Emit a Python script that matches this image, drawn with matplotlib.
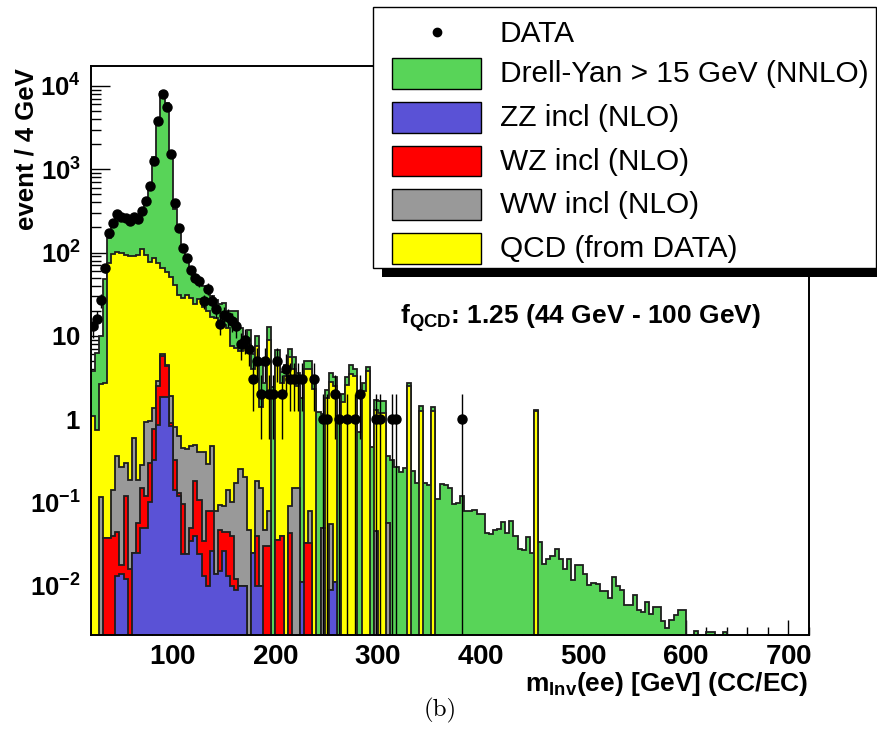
import matplotlib

matplotlib.use("Agg")
import matplotlib.pyplot as plt
import numpy as np
from matplotlib.patches import Rectangle
from matplotlib.lines import Line2D
from matplotlib.ticker import FixedLocator, FuncFormatter, NullFormatter

plt.rcParams["font.family"] = ["Liberation Sans", "DejaVu Sans"]
plt.rcParams["mathtext.fontset"] = "custom"
plt.rcParams["mathtext.rm"] = "Liberation Sans"
plt.rcParams["mathtext.bf"] = "Liberation Sans:bold"
plt.rcParams["mathtext.it"] = "Liberation Sans:italic"

# binning: 4 GeV bins, first bin starts at 20 GeV
BIN_WIDTH = 4
FIRST_EDGE = 20
N_BINS = 175

# expected events per bin (bins from 20 GeV upwards)
zz = [0, 0, 0, 0, 0, 0, 0.013, 0.014, 0.012, 0,
      0.025, 0.025, 0.05, 0.05, 0.1, 0.32, 0.85, 1.83, 1.83, 0.82,
      0.14, 0.12, 0.024, 0.024, 0.034, 0.04, 0.024, 0.013, 0.01, 0.026,
      0.014, 0.015, 0.026, 0.013, 0.01, 0.009, 0.01, 0.0098, 0, 0.025,
      0.01, 0.01, 0, 0, 0, 0, 0, 0, 0, 0,
      0, 0.011, 0, 0, 0, 0, 0, 0, 0.009, 0.011]

wz = [0, 0, 0, 0.037, 0.037, 0.04, 0.031, 0.004, 0.106, 0.016,
      0, 0.032, 0.10, 0.07, 0.2, 0.44, 1.65, 3.97, 2.47, 0.08,
      0.18, 0.01, 0.071, 0, 0.016, 0.14, 0.082, 0.021, 0.07, 0.054,
      0, 0.032, 0.018, 0.031, 0.03, 0.003, 0, 0, 0, 0,
      0.03, 0, 0.03, 0.03, 0, 0.035, 0.04, 0, 0.043, 0,
      0, 0, 0.033, 0.033]

ww = [0, 0, 0.116, 0, 0, 0.10, 0.32, 0.25, 0.18, 0.17,
      0.575, 0.13, 0.13, 0.81, 0.65, 0.6, 0.4, 0.2, 0.2, 1.0,
      0.48, 0.49, 0.35, 0.42, 0.43, 0.31, 0.30, 0.37, 0.21, 0.40,
      0.066, 0.045, 0.046, 0.096, 0.06, 0.158, 0.24, 0.19, 0.047, 0,
      0.14, 0.14, 0.017, 0.05, 0, 0, 0, 0, 0.047, 0.15,
      0.15, 0, 0, 0.047, 0, 0, 0.05, 0, 0.046, 0,
      0, 0, 0, 0, 0, 0, 0, 0, 0, 0.046,
      0, 0, 0.057]

qcd = [1.1, 0.75, 2.5, 2.7, 75, 96, 100, 98, 94, 91,
       90, 94, 109, 93, 77, 84, 72, 60, 54.5, 49,
       40, 30, 28, 30.5, 28, 23.5, 27.6, 21.6, 19.7, 16.5,
       16.4, 14.5, 13.4, 12.4, 7.5, 7.0, 6.25, 7.0, 7.95, 3.97,
       7.3, 1.25, 1.95, 8.9, 0, 4.46, 2.66, 3.3, 5.41, 3.85,
       2.35, 0, 3.97, 3.92, 2.3, 0, 0, 1.8, 2.75, 2.49,
       0, 1.6, 2.6, 3.5, 3.3, 0, 2.2, 3.76, 0, 1.23,
       1.2, 1.2, 0, 0, 0, 0, 0, 2.5, 0, 0,
       1.27, 0, 0, 1.27, 0, 0, 0, 0, 0, 0,
       0, 0, 0, 0, 0, 0, 0, 0, 0, 0,
       0, 0, 0, 0, 0, 0, 0, 0, 1.25]

dy = [2.7, 5.5, 7.4, 46, 73, 104, 160, 152, 146, 134,
      159, 151, 201, 326, 572, 1315, 3625, 8434, 6141, 1449,
      289, 164, 91, 54, 31.5, 26, 17, 18, 16, 13,
      10.5, 9.4, 11.5, 7.5, 12.1, 12.5, 5.8, 2.5, 3.6, 2.0,
      2.6, 3.1, 0.7, 3.7, 2.4, 2.2, 1.0, 1.2, 1.4, 1.5,
      1.1, 1.8, 1.0, 1.0, 0.6, 1.22, 1.1, 0.45, 0.8, 0.7,
      1.0, 0.43, 0.6, 1.0, 0.7, 0.7, 0.5, 0.44, 0.46, 0.42,
      0.45, 0.45, 0.30, 0.32, 0.27, 0.23, 0.26, 0.2, 0.24, 0.17,
      0.15, 0.17, 0.16, 0.13, 0.11, 0.166, 0.16, 0.15, 0.096, 0.098,
      0.12, 0.079, 0.079, 0.081, 0.072, 0.072, 0.043, 0.042, 0.047, 0.048,
      0.058, 0.043, 0.06, 0.04, 0.028, 0.027, 0.038, 0.025, 0.03, 0.0335,
      0.0185, 0.0212, 0.0228, 0.028, 0.021, 0.016, 0.021, 0.0117, 0.0177, 0.0177,
      0.0139, 0.0101, 0.0108, 0.0104, 0.0087, 0.0087, 0.0072, 0.0126, 0.0099, 0.009,
      0.0059, 0.0059, 0.0078, 0.0051, 0.0048, 0.0063, 0.0046, 0.0055, 0.0055, 0.0038,
      0.0031, 0.0039, 0.0045, 0.0051, 0.0051, 0, 0, 0.0029, 0, 0,
      0.0028, 0.0028, 0, 0, 0.0028]

# observed events per bin (bins from 20 GeV upwards)
data = [13, 16, 27, 65, 173, 225, 290, 270, 260, 236,
        270, 250, 312, 415, 622, 1265, 3760, 7950, 5600, 1520,
        396, 195, 114, 87, 62, 50, 45, 26, 37, 26,
        21, 14, 18, 17, 15, 13, 8, 9, 7, 3,
        5, 2, 5, 2, 2, 5, 2, 4, 3, 3,
        3, 3, 0, 0, 3, 0, 1, 1, 0, 2,
        1, 0, 1, 0, 1, 2, 0, 0, 0, 1,
        1, 0, 0, 1, 1, 0, 0, 0, 0, 0,
        0, 0, 0, 0, 0, 0, 0, 0, 0, 0,
        1]

labels = ["ZZ incl (NLO)", "WZ incl (NLO)", "WW incl (NLO)",
          "QCD (from DATA)", "Drell-Yan > 15 GeV (NNLO)"]
colors = ["#5a52d6", "#ff0000", "#999999", "#ffff00", "#58d458"]
x_ticks = [100, 200, 300, 400, 500, 600, 700]
y_ticks = [1e-2, 1e-1, 1, 10, 1e2, 1e3, 1e4]
OUTLINE = "#1e1e1e"

W, H = 878, 753


def per_bin(values):
    out = np.zeros(N_BINS)
    out[:len(values)] = values
    return out


def fx(px):
    return px / W


def fy(py):
    return 1 - py / H


edges = FIRST_EDGE + BIN_WIDTH * np.arange(N_BINS + 1)
stack = np.cumsum(np.vstack([per_bin(v) for v in (zz, wz, ww, qcd, dy)]), axis=0)
floor = 1e-6

fig = plt.figure(figsize=(W / 100, H / 100), dpi=100)
ax = fig.add_axes([fx(90.7), fy(634.5), fx(809) - fx(90.7), fy(65.7) - fy(634.5)])
ax.set_yscale("log")

# draw the cumulative layers from the top down, as ROOT's THStack does
for k in range(len(labels) - 1, -1, -1):
    top = np.where(stack[k] > 0, stack[k], floor)
    ax.stairs(top, edges, baseline=floor, fill=True, facecolor=colors[k],
              edgecolor="none", zorder=2 + (4 - k) * 0.1)
    ax.stairs(top, edges, baseline=floor, color=OUTLINE, lw=1.3,
              zorder=2.05 + (4 - k) * 0.1)

# data points with sqrt(N) error bars
counts = np.array(data, dtype=float)
centers = edges[:len(counts)] + BIN_WIDTH / 2
mask = counts > 0
err = np.sqrt(counts)
ax.vlines(centers[mask], np.maximum(counts - err, floor)[mask], (counts + err)[mask],
          color="black", lw=1.0, zorder=5)
ax.plot(centers[mask], counts[mask], "o", color="black", ms=6.5, zorder=6)

ax.set_xlim(20, 720)
ax.set_ylim(0.0026, 17500)

ax.xaxis.set_major_locator(FixedLocator(x_ticks))
ax.xaxis.set_minor_locator(FixedLocator(np.arange(20, 721, 20)))
ax.xaxis.set_major_formatter(FuncFormatter(lambda v, p: r"$\mathbf{%d}$" % v))
minor_y = [m * d for d in (1e-3, 1e-2, 1e-1, 1, 10, 1e2, 1e3, 1e4) for m in range(2, 10)]
ax.yaxis.set_major_locator(FixedLocator(y_ticks))
ax.yaxis.set_minor_locator(FixedLocator([v for v in minor_y if 0.0026 < v < 17500]))
ax.yaxis.set_minor_formatter(NullFormatter())


def ylab(v, pos):
    e = int(round(np.log10(v)))
    if e == 0:
        return r"$\mathbf{1}$"
    if e == 1:
        return r"$\mathbf{10}$"
    return r"$\mathbf{10^{%d}}$" % e


ax.yaxis.set_major_formatter(FuncFormatter(ylab))
ax.tick_params(which="both", direction="in", top=False, right=False,
               width=1.0, color="black", labelsize=20)
ax.tick_params(axis="y", which="major", length=14, pad=7, labelsize=18.5)
ax.tick_params(axis="y", which="minor", length=7)
ax.tick_params(axis="x", which="major", length=11, pad=7)
ax.tick_params(axis="x", which="minor", length=5.5)
for s in ax.spines.values():
    s.set_linewidth(1.4)
    s.set_zorder(10)

fig.text(fx(27), fy(68), "event / 4 GeV", rotation=90, ha="center", va="top",
         fontsize=18.5, fontweight="bold")
fig.text(fx(808), fy(684), r"$\mathbf{m_{Inv}(ee)\ [GeV]\ (CC/EC)}$",
         ha="right", va="center", fontsize=19)
fig.text(fx(400), fy(318), r"$\mathbf{f_{QCD}}$: 1.25 (44 GeV - 100 GeV)",
         ha="left", va="center", fontsize=19, fontweight="bold")
fig.text(fx(440), fy(710), "(b)", ha="center", va="center", fontsize=18,
         family="cmr10")

# legend box drawn over the frame, ROOT style with a shadow
fig.add_artist(Rectangle((fx(381.7), fy(276.7)), fx(878) - fx(381.7), fy(268.3) - fy(276.7),
                         transform=fig.transFigure, facecolor="black", edgecolor="none", zorder=20))
fig.add_artist(Rectangle((fx(373.3), fy(268.3)), fx(876) - fx(373.3), fy(7.3) - fy(268.3),
                         transform=fig.transFigure, facecolor="white", edgecolor="black",
                         lw=1.0, zorder=21))
fig.add_artist(Line2D([fx(436.7)], [fy(31.7)], marker="o", color="black", ms=6,
                      transform=fig.transFigure, zorder=22))
fig.text(fx(500), fy(34), "DATA", ha="left", va="center", fontsize=21.5, zorder=22)
legend_rows = [(4, 58.3), (0, 102.3), (1, 145.7), (2, 189.3), (3, 233.3)]
for k, ytop in legend_rows:
    fig.add_artist(Rectangle((fx(391.7), fy(ytop + 30.7)), fx(481) - fx(391.7), fy(ytop) - fy(ytop + 30.7),
                             transform=fig.transFigure, facecolor=colors[k], edgecolor="black",
                             lw=1.0, zorder=22))
    fig.text(fx(500), fy(ytop + 16), labels[k], ha="left", va="center", fontsize=21.5, zorder=22)

fig.savefig("out.png", dpi=100)
